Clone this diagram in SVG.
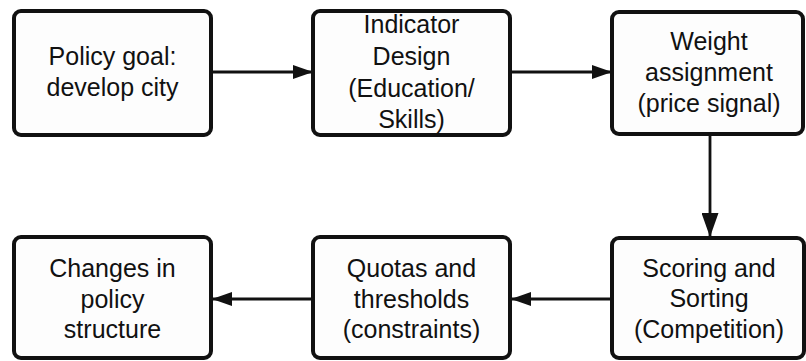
<svg xmlns="http://www.w3.org/2000/svg" width="806" height="361" viewBox="0 0 806 361">
<style>
.box{fill:#fdfdfd;stroke:#111;stroke-width:4}
.t{font-family:"Liberation Sans",Arial,sans-serif;font-size:25px;fill:#111;text-anchor:middle}
.c{stroke:#111;stroke-width:2.8;fill:none}
</style>
<defs>
<marker id="ah" markerWidth="20" markerHeight="14" refX="19" refY="7" orient="auto" markerUnits="userSpaceOnUse">
<path d="M0,0 L20,7 L0,14 Z" fill="#111"/>
</marker>
<marker id="ahv" markerWidth="24" markerHeight="17" refX="23" refY="8.5" orient="auto" markerUnits="userSpaceOnUse">
<path d="M0,0 L24,8.5 L0,17 Z" fill="#111"/>
</marker>
</defs>
<rect width="806" height="361" fill="#fff"/>
<g id="connectors">
<line class="c" x1="212" y1="72" x2="312" y2="72" marker-end="url(#ah)"/>
<line class="c" x1="511" y1="72" x2="611" y2="72" marker-end="url(#ah)"/>
<line class="c" x1="710" y1="134" x2="710" y2="236" marker-end="url(#ahv)"/>
<line class="c" x1="611" y1="299" x2="512" y2="299" marker-end="url(#ah)"/>
<line class="c" x1="312" y1="299" x2="213" y2="299" marker-end="url(#ah)"/>
</g>
<g id="n1">
<rect class="box" x="14" y="11" width="197" height="124" rx="7"/>
<text class="t" x="112.5" y="65">Policy goal:</text>
<text class="t" x="112.5" y="96">develop city</text>
</g>
<g id="n2">
<rect class="box" x="313" y="11" width="197" height="124" rx="7"/>
<text class="t" x="411.5" y="33">Indicator</text>
<text class="t" x="411.5" y="65">Design</text>
<text class="t" x="411.5" y="97">(Education/</text>
<text class="t" x="411.5" y="128">Skills)</text>
</g>
<g id="n3">
<rect class="box" x="612" y="12" width="191" height="122" rx="7"/>
<text class="t" x="709" y="50">Weight</text>
<text class="t" x="709" y="81">assignment</text>
<text class="t" x="709" y="112">(price signal)</text>
</g>
<g id="n4">
<rect class="box" x="612" y="238" width="192" height="120" rx="7"/>
<text class="t" x="709" y="277">Scoring and</text>
<text class="t" x="709" y="307">Sorting</text>
<text class="t" x="709" y="338">(Competition)</text>
</g>
<g id="n5">
<rect class="box" x="313" y="237" width="197" height="121" rx="7"/>
<text class="t" x="411.5" y="277">Quotas and</text>
<text class="t" x="411.5" y="308">thresholds</text>
<text class="t" x="411.5" y="338">(constraints)</text>
</g>
<g id="n6">
<rect class="box" x="14" y="237" width="197" height="121" rx="7"/>
<text class="t" x="112.5" y="277">Changes in</text>
<text class="t" x="112.5" y="308">policy</text>
<text class="t" x="112.5" y="338">structure</text>
</g>
</svg>
